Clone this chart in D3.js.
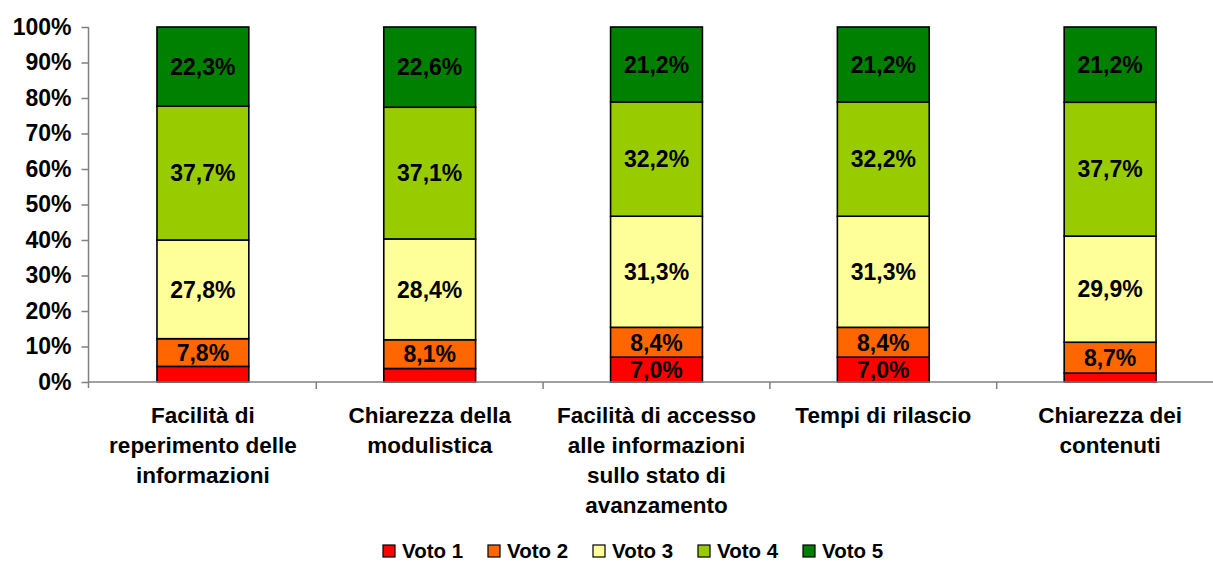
<!DOCTYPE html>
<html>
<head>
<meta charset="utf-8">
<script src="https://cdn.jsdelivr.net/npm/d3@7"></script>
<style>
  body { margin: 0; background: #fff; }
  text { font-family: "Liberation Sans", Arial, sans-serif; font-weight: bold; fill: #000; }
</style>
</head>
<body>
<div id="chart"></div>
<script>
const categories = [
  "Facilità di reperimento delle informazioni",
  "Chiarezza della modulistica",
  "Facilità di accesso alle informazioni sullo stato di avanzamento",
  "Tempi di rilascio",
  "Chiarezza dei contenuti"
];
const categoryLines = [
  ["Facilità di", "reperimento delle", "informazioni"],
  ["Chiarezza della", "modulistica"],
  ["Facilità di accesso", "alle informazioni", "sullo stato di", "avanzamento"],
  ["Tempi di rilascio"],
  ["Chiarezza dei", "contenuti"]
];
const seriesNames = ["Voto 1", "Voto 2", "Voto 3", "Voto 4", "Voto 5"];
const voto1 = [4.4, 3.8, 7.0, 7.0, 2.5];
const voto2 = [7.8, 8.1, 8.4, 8.4, 8.7];
const voto3 = [27.8, 28.4, 31.3, 31.3, 29.9];
const voto4 = [37.7, 37.1, 32.2, 32.2, 37.7];
const voto5 = [22.3, 22.6, 21.2, 21.2, 21.2];
const yTicks = [0, 10, 20, 30, 40, 50, 60, 70, 80, 90, 100];
const colors = ["#FF0000", "#FF6600", "#FFFF99", "#99CC00", "#008000"];

const W = 1213, H = 562;
const svg = d3.select("#chart").append("svg").attr("width", W).attr("height", H);

const x = d3.scaleBand().domain(categories).range([89.5, 1223.5]).padding(0);
const y = d3.scaleLinear().domain([0, 100]).range([382, 27]);
const barW = x.bandwidth() * 0.405;

const rows = categories.map((c, i) => {
  const r = { cat: c };
  [voto1, voto2, voto3, voto4, voto5].forEach((s, k) => r[seriesNames[k]] = s[i]);
  return r;
});
const stacked = d3.stack().keys(seriesNames)(rows);

const fmt = v => d3.format(".1f")(v).replace(".", ",") + "%";

// bars
const layers = svg.append("g").selectAll("g").data(stacked).join("g")
  .attr("fill", (d, i) => colors[i]);
layers.selectAll("rect").data(d => d).join("rect")
  .attr("x", d => x(d.data.cat) + (x.bandwidth() - barW) / 2)
  .attr("y", d => y(Math.min(d[1], 100)))
  .attr("width", barW)
  .attr("height", d => y(d[0]) - y(Math.min(d[1], 100)))
  .attr("stroke", "#000").attr("stroke-width", 1.6);

// data labels (the small Voto 1 slices have none)
layers.selectAll("text").data(d => d.filter(p => p[1] - p[0] >= 5)).join("text")
  .attr("x", d => x(d.data.cat) + x.bandwidth() / 2)
  .attr("y", d => (y(d[0]) + y(Math.min(d[1], 100))) / 2)
  .attr("dy", "0.36em")
  .attr("text-anchor", "middle")
  .attr("font-size", 23)
  .text(d => fmt(d[1] - d[0]));

// y axis
const yAxis = svg.append("g").attr("transform", "translate(88.5,0)")
  .call(d3.axisLeft(y).tickValues(yTicks).tickSize(7).tickPadding(10).tickFormat(d => d + "%"));
yAxis.select(".domain").attr("stroke", "#808080").attr("stroke-width", 1.5).attr("d", `M0,${y(100)}V${y(0) + 6}`);
yAxis.selectAll(".tick line").attr("stroke", "#808080").attr("stroke-width", 1.5);
yAxis.selectAll(".tick text").attr("font-size", 23).attr("font-family", "Liberation Sans, Arial, sans-serif")
  .attr("font-weight", "bold").attr("fill", "#000");

// x axis
const xg = svg.append("g");
xg.append("line").attr("x1", 88.5).attr("x2", 1223).attr("y1", y(0)).attr("y2", y(0))
  .attr("stroke", "#808080").attr("stroke-width", 1.5);
xg.selectAll("line.tk").data(categories.slice(1)).join("line").attr("class", "tk")
  .attr("x1", d => x(d)).attr("x2", d => x(d)).attr("y1", y(0)).attr("y2", y(0) + 7)
  .attr("stroke", "#808080").attr("stroke-width", 1.5);
xg.selectAll("text").data(categories).join("text")
  .attr("x", d => x(d) + x.bandwidth() / 2)
  .attr("y", 423)
  .attr("text-anchor", "middle")
  .attr("font-size", 22.5)
  .selectAll("tspan").data((d, i) => categoryLines[i]).join("tspan")
  .attr("x", function () { return this.parentNode.getAttribute("x"); })
  .attr("dy", (d, i) => i === 0 ? 0 : 30)
  .text(d => d);

// legend
const legend = svg.append("g").attr("transform", "translate(383,0)");
const li = legend.selectAll("g").data(seriesNames).join("g")
  .attr("transform", (d, i) => `translate(${i * 105},0)`);
li.append("rect").attr("x", 0).attr("y", 545).attr("width", 12).attr("height", 12)
  .attr("fill", (d, i) => colors[i]).attr("stroke", "#000").attr("stroke-width", 1.2);
li.append("text").attr("x", 19).attr("y", 557.5).attr("font-size", 20.5).text(d => d);
</script>
</body>
</html>
